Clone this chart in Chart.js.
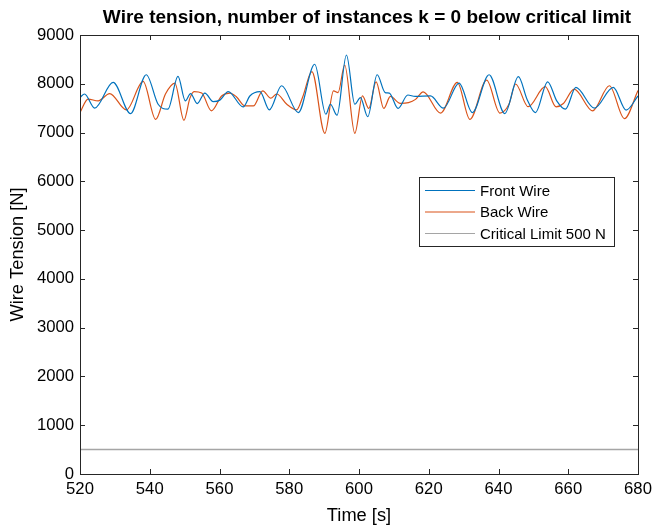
<!DOCTYPE html>
<html>
<head>
<meta charset="utf-8">
<script src="https://cdn.jsdelivr.net/npm/chart.js@4/dist/chart.umd.min.js"></script>
<style>
	html, body { margin: 0; padding: 0; background: #fff; }
	#wrap { width: 653px; height: 531px; }
</style>
</head>
<body>
<div id="wrap"><canvas id="chart"></canvas></div>
<script>
// values
const frontTime = [520, 521.3, 524.2, 529.5, 534.5, 539, 542.4, 545.2, 548.1, 550.2, 551.7, 553.6, 555.8, 558.2, 560.1, 562.5, 566.8, 568.7, 571.6, 574.3, 577.8, 582.6, 587.3, 590.5, 591.8, 593.7, 596.4, 598.8, 600.4, 602.5, 605.2, 607.5, 608.7, 611.2, 614, 616.1, 620.5, 624.2, 628.7, 632.5, 637.3, 641.8, 645.7, 648.2, 650.6, 654.1, 656.7, 659.2, 662.2, 667.5, 672.9, 676.6, 680];
const frontTension = [7720, 7790, 7500, 8030, 7390, 8185, 7580, 7480, 8150, 7650, 7800, 7595, 7810, 7635, 7665, 7840, 7525, 7750, 7840, 7465, 7960, 7410, 8400, 7375, 7580, 7355, 8590, 7580, 7715, 7325, 8185, 7820, 7810, 7495, 7770, 7740, 7750, 7500, 8015, 7410, 8185, 7390, 8145, 7680, 7410, 8040, 7650, 7480, 7925, 7500, 7925, 7460, 7750];

const backTime = [520, 522.3, 525.2, 528.5, 533.3, 538.1, 541.7, 544.5, 547.2, 549.8, 551.5, 552.7, 554.9, 557.7, 560.6, 563, 564.9, 567.3, 569.7, 572.4, 574.7, 576.4, 579.3, 582.1, 583.9, 586.5, 590.2, 592.7, 594, 595.9, 598.8, 601, 602.8, 604.9, 607.1, 609, 611.8, 614.2, 616.2, 618.4, 623.4, 628.2, 631.8, 636.6, 640.4, 643, 644.9, 648.5, 653.4, 656.5, 658.6, 661.7, 667, 671.8, 676.1, 680];
const backTension = [7410, 7685, 7650, 7800, 7465, 8050, 7270, 7790, 8015, 7250, 7700, 7840, 7810, 7445, 7750, 7810, 7730, 7545, 7545, 7855, 7705, 7790, 7580, 7465, 7740, 8250, 6985, 7855, 7820, 8385, 6985, 7750, 7495, 8040, 7495, 7740, 7600, 7615, 7680, 7835, 7400, 8030, 7270, 8075, 7400, 7580, 7995, 7530, 7940, 7525, 7595, 7890, 7445, 7960, 7285, 7860];

const limitTime = [520, 680];
const limitTension = [500, 500];

const xTicks = [520, 540, 560, 580, 600, 620, 640, 660, 680];
const yTicks = [0, 1000, 2000, 3000, 4000, 5000, 6000, 7000, 8000, 9000];

const titleText = 'Wire tension, number of instances k = 0 below critical limit';

const FONT = "'Liberation Sans', Arial, Helvetica, sans-serif";

const toPoints = (xs, ys) => xs.map((x, i) => ({ x, y: ys[i] }));

// MATLAB-like box with inward ticks, title, and a legend inside the axes
const boxPlugin = {
	id: 'box',
	afterDraw(chart) {
		const { ctx, chartArea: a, scales } = chart;
		const len = 5;
		ctx.save();
		ctx.strokeStyle = '#262626';
		ctx.lineWidth = 1;
		ctx.beginPath();
		xTicks.forEach((v) => {
			const px = Math.round(scales.x.getPixelForValue(v)) + 0.5;
			ctx.moveTo(px, a.bottom);
			ctx.lineTo(px, a.bottom - len);
			ctx.moveTo(px, a.top);
			ctx.lineTo(px, a.top + len);
		});
		yTicks.forEach((v) => {
			const py = Math.round(scales.y.getPixelForValue(v)) + 0.5;
			ctx.moveTo(a.left, py);
			ctx.lineTo(a.left + len, py);
			ctx.moveTo(a.right, py);
			ctx.lineTo(a.right - len, py);
		});
		ctx.stroke();
		ctx.strokeRect(Math.round(a.left) + 0.5, Math.round(a.top) + 0.5,
			Math.round(a.right - a.left), Math.round(a.bottom - a.top));

		// title
		ctx.fillStyle = '#000';
		ctx.font = 'bold 19px ' + FONT;
		ctx.textAlign = 'center';
		ctx.textBaseline = 'middle';
		ctx.fillText(titleText, 367, 18);

		// legend
		const lx = 419.5, ly = 177.5, lw = 195, lh = 69;
		ctx.fillStyle = '#fff';
		ctx.fillRect(lx, ly, lw, lh);
		ctx.strokeRect(lx, ly, lw, lh);
		ctx.font = '15px ' + FONT;
		ctx.textAlign = 'left';
		chart.data.datasets.forEach((ds, i) => {
			const y = 190.5 + i * 21.5;
			ctx.strokeStyle = ds.borderColor;
			ctx.lineWidth = 1.2;
			ctx.beginPath();
			ctx.moveTo(425, y);
			ctx.lineTo(475, y);
			ctx.stroke();
			ctx.fillStyle = '#000';
			ctx.fillText(ds.label, 480, y + 1);
		});
		ctx.restore();
	},
};

new Chart(document.getElementById('chart'), {
	type: 'line',
	data: {
		datasets: [
			{
				label: 'Front Wire',
				data: toPoints(frontTime, frontTension),
				borderColor: '#0072BD',
				borderWidth: 1.2,
				pointRadius: 0,
				cubicInterpolationMode: 'monotone',
			},
			{
				label: 'Back Wire',
				data: toPoints(backTime, backTension),
				borderColor: '#D95319',
				borderWidth: 1.2,
				pointRadius: 0,
				cubicInterpolationMode: 'monotone',
			},
			{
				label: 'Critical Limit 500 N',
				data: toPoints(limitTime, limitTension),
				borderColor: '#a5a5a5',
				borderWidth: 1.5,
				pointRadius: 0,
			},
		],
	},
	options: {
		responsive: true,
		maintainAspectRatio: false,
		animation: false,
		layout: { padding: { left: 0, right: 15, top: 35, bottom: 0 } },
		plugins: {
			legend: { display: false },
			tooltip: { enabled: false },
			title: { display: false },
		},
		scales: {
			x: {
				type: 'linear',
				min: 520,
				max: 680,
				afterFit: (s) => {
					s.height = 57;
					s.paddingLeft = 0;
					s.paddingRight = 0;
				},
				afterBuildTicks: (s) => { s.ticks = xTicks.map((v) => ({ value: v })); },
				grid: { display: false, drawTicks: false, tickLength: 0 },
				border: { display: false },
				ticks: { color: '#000', padding: 5, maxRotation: 0, font: { family: FONT, size: 16.7 } },
				title: {
					display: true,
					text: 'Time [s]',
					color: '#000',
					font: { family: FONT, size: 18.3 },
					padding: { top: 0, bottom: 4 },
				},
			},
			y: {
				min: 0,
				max: 9000,
				afterFit: (s) => {
					s.width = 80;
					s.paddingTop = 0;
					s.paddingBottom = 0;
				},
				afterBuildTicks: (s) => { s.ticks = yTicks.map((v) => ({ value: v })); },
				grid: { display: false, drawTicks: false, tickLength: 0 },
				border: { display: false },
				ticks: {
					color: '#000',
					padding: 6,
					font: { family: FONT, size: 16.7 },
					callback: (v) => String(v),
				},
				title: {
					display: true,
					text: 'Wire Tension [N]',
					color: '#000',
					font: { family: FONT, size: 18.3 },
					padding: { top: 7, bottom: 0 },
				},
			},
		},
	},
	plugins: [boxPlugin],
});
</script>
</body>
</html>
